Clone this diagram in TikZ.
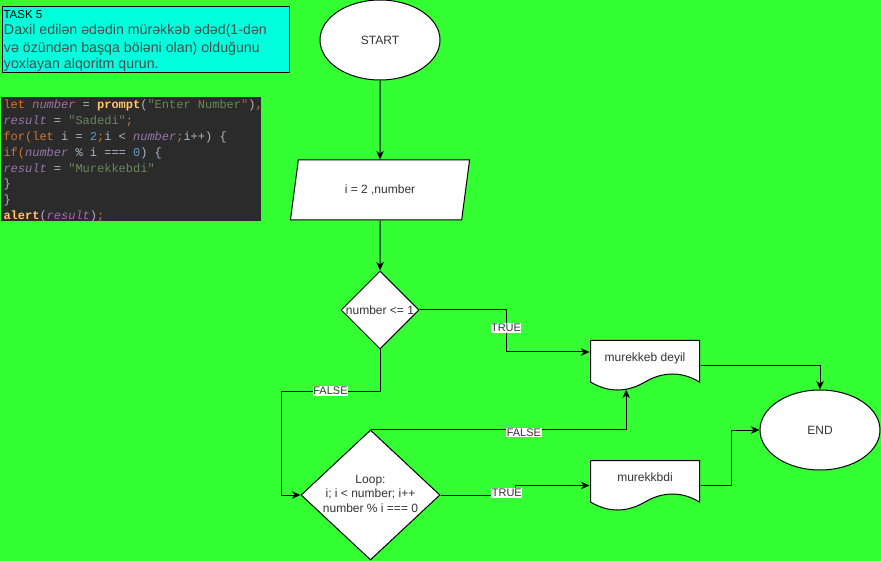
\documentclass[tikz,border=0pt]{standalone}
\usepackage{fontspec}
\setmainfont{Liberation Sans}
\newfontfamily\codefont{Liberation Mono}
\usetikzlibrary{shapes.geometric,arrows.meta,calc}
\definecolor{bggreen}{HTML}{33FF33}
\definecolor{taskcyan}{HTML}{00FFDD}
\definecolor{taskgrey}{HTML}{4D4D4D}
\definecolor{txt}{HTML}{333333}
\definecolor{codebg}{HTML}{2B2B2B}
\definecolor{ckw}{HTML}{CC7832}
\definecolor{cvar}{HTML}{9876AA}
\definecolor{cfn}{HTML}{FFC66D}
\definecolor{cstr}{HTML}{6A8759}
\definecolor{cnum}{HTML}{6897BB}
\definecolor{ctxt}{HTML}{A9B7C6}
\newcommand\Ckw[1]{\textcolor{ckw}{#1}}
\newcommand\Cvar[1]{\textcolor{cvar}{\itshape #1}}
\newcommand\Cfn[1]{\textcolor{cfn}{\bfseries #1}}
\newcommand\Cstr[1]{\textcolor{cstr}{#1}}
\newcommand\Cnum[1]{\textcolor{cnum}{#1}}
\begin{document}
\begin{tikzpicture}[x=1pt,y=-1pt,line width=1pt,
  every node/.style={font=\fontsize{12}{14.5}\selectfont,text=txt},
  term/.style={ellipse,draw,fill=white,minimum width=120pt,minimum height=80pt,inner sep=0pt},
  io/.style={trapezium,trapezium left angle=71.57,trapezium right angle=108.43,trapezium stretches=true,
    draw,fill=white,minimum width=180pt,minimum height=60pt,inner sep=0pt},
  dec/.style={diamond,draw,fill=white,inner sep=0pt,aspect=1},
  doc/.style={minimum width=110pt,minimum height=51pt,inner sep=0pt,text height=6pt,text depth=14pt,
    path picture={
      \draw[fill=white,line width=1pt]
       ($(path picture bounding box.north west)+(0.5pt,-0.5pt)$) --
       ($(path picture bounding box.north east)+(-0.5pt,-0.5pt)$) --
       ($(path picture bounding box.south east)+(-0.5pt,9pt)$) ..
       controls ($(path picture bounding box.south east)+(-18.33pt,19.67pt)$) and ($(path picture bounding box.south east)+(-36.67pt,19.67pt)$) ..
       ($(path picture bounding box.south)+(0pt,9pt)$) ..
       controls ($(path picture bounding box.south)+(-18.33pt,-1.67pt)$) and ($(path picture bounding box.south)+(-36.67pt,-1.67pt)$) ..
       ($(path picture bounding box.south west)+(0.5pt,9pt)$) -- cycle;
    }},
  lbl/.style={fill=white,font=\fontsize{11}{13}\selectfont,inner xsep=0.5pt,inner ysep=1pt,text=txt},
  arr/.style={-{Stealth[length=8.5pt,width=7.5pt,inset=2.5pt]}},
  codeline/.style={anchor=base west,inner sep=0pt,text=ctxt,font=\codefont\fontsize{12}{15}\selectfont},
  taskline/.style={anchor=base west,inner sep=0pt,text=taskgrey,font=\fontsize{14.2}{16.5}\selectfont}
]
\fill[bggreen] (0,0) rectangle (881,561);
\useasboundingbox (0,0) rectangle (881,561);

% task box
\draw[fill=taskcyan] (2,7) rectangle (289,73);
\node[anchor=base west,inner sep=0pt,text=black,font=\fontsize{11.5}{13}\selectfont] (t0) at (3,18.5) {TASK 5};
\node[taskline] (t1) at (3.5,35) {Daxil edilən ədədin mürəkkəb ədəd(1-dən};
\node[taskline] (t2) at (3.5,52.5) {və özündən başqa böləni olan) olduğunu};
\node[taskline] (t3) at (3.5,68.5) {yoxlayan alqoritm qurun.};

% code box
\fill[codebg] (1,97) rectangle (261,221);
\node[codeline] (c1) at (3,109) {\Ckw{let} \Cvar{number} = \Cfn{prompt}(\Cstr{"Enter Number"})\Ckw{,}};
\node[codeline] (c2) at (3,124.76) {\Cvar{result} = \Cstr{"Sadedi"}\Ckw{;}};
\node[codeline] (c3) at (3,140.52) {\Ckw{for(let} i = \Cnum{2}\Ckw{;}i < \Cvar{number}\Ckw{;}i++) \{};
\node[codeline] (c4) at (3,156.28) {\Ckw{if(}\Cvar{number} \% i === \Cnum{0}) \{};
\node[codeline] (c5) at (3,172.04) {\Cvar{result} = \Cstr{"Murekkebdi"}};
\node[codeline] (c6) at (3,187.8) {\}};
\node[codeline] (c7) at (3,203.56) {\}};
\node[codeline] (c8) at (3,219.32) {\Cfn{alert}(\Cvar{result})\Ckw{;}};

% flowchart
\node[term] (start) at (380,40) {START};
\node[io] (inp) at (380,190) {i = 2 ,number};
\node[dec,minimum width=78pt,minimum height=78pt] (d1) at (380,310) {\makebox[0pt]{number <= 1}};
\node[dec,minimum width=139pt,minimum height=130pt] (loop) at (370.5,495)
  {\makebox[0pt]{\begin{tabular}{@{}c@{}}Loop:\\ i; i < number; i++\\ number \% i === 0\end{tabular}}};
\node[doc] (doc1) at (645,365.5) {murekkeb deyil};
\node[doc] (doc2) at (645,485.5) {murekkbdi};
\node[term] (end) at (820,430) {END};
\coordinate (doc1bot) at ($(doc1.south west)+(36.67pt,1.9pt)$);

\draw[arr] (start.south) -- (inp.north);
\draw[arr] (inp.south) -- (d1.north);
\draw[arr] (d1.east) -- (506,310) -- node[lbl,pos=0.43]{TRUE} (506,352) -- ([yshift=13.5pt]doc1.west);
\draw[arr] (d1.south) |- node[lbl,pos=0.75]{FALSE} (281,391) |- (loop.west);
\draw[arr] (loop.north) -- node[lbl,pos=0.6,yshift=-3pt]{FALSE} (loop.north -| doc1bot) -- (doc1bot);
\draw[arr] (loop.east) -- node[lbl,pos=0.89,yshift=2pt]{TRUE} (515,495) |- (doc2.west);
\draw[arr] (doc1.east) -| (end.north);
\draw[arr] (doc2.east) -- (731,485.5) |- (end.west);
\end{tikzpicture}
\end{document}
